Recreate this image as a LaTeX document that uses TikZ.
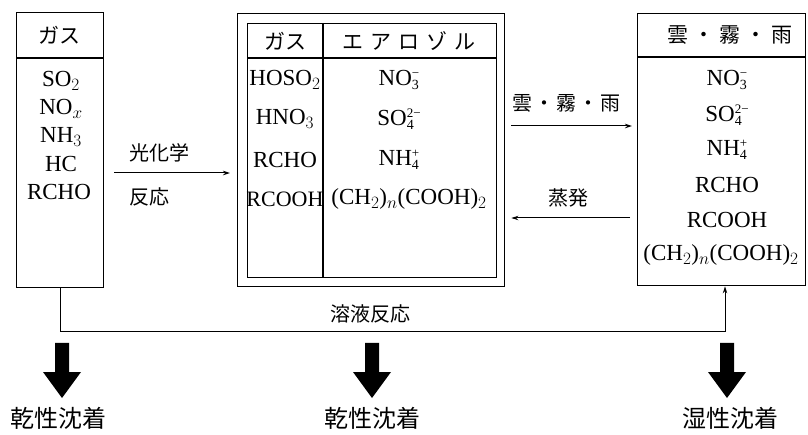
\documentclass[tikz,border=0pt]{standalone}
\usepackage{fontspec}
\setmainfont{Liberation Serif}
\newfontfamily\jp{Noto Sans CJK JP}
\usetikzlibrary{arrows.meta}
\newcommand\ionsc[2]{\rlap{\raisebox{-4pt}{\fontsize{14}{14}\selectfont #1}}\raisebox{8pt}{\fontsize{13}{13}\selectfont #2}}
\begin{document}
\begin{tikzpicture}[x=1pt,y=-1pt,
  box/.style={draw, line width=1.4pt, inner sep=0, anchor=north west},
  rule/.style={line width=1.2pt},
  chem/.style={font=\fontsize{23}{23}\selectfont, inner sep=0},
  chemsm/.style={font=\fontsize{22}{22}\selectfont, inner sep=0},
  jhead/.style={font=\jp\fontsize{21}{21}\selectfont, inner sep=0},
  jlab/.style={font=\jp\fontsize{20}{20}\selectfont, inner sep=0},
  jbot/.style={font=\jp\fontsize{24}{24}\selectfont, inner sep=0},
  flow/.style={line width=1pt, -{Stealth[length=7pt,width=4.5pt]}},
  bigdown/.pic={\fill (-7,0) -- (7,0) -- (7,29) -- (19,29) -- (0,55) -- (-19,29) -- (-7,29) -- cycle;}
]
\useasboundingbox (0,0) rectangle (808,435);

% boxes
\node[box, minimum width=87pt, minimum height=275pt] (L) at (16,12) {};
\node[box, minimum width=267pt, minimum height=273pt] (Mo) at (237,13) {};
\node[box, minimum width=249pt, minimum height=254pt] (Mi) at (247,23) {};
\node[box, minimum width=168pt, minimum height=272pt] (R) at (637,13) {};

% header rules
\draw[rule] ([yshift=-46pt]L.north west) -- ([yshift=-46pt]L.north east);
\draw[rule] ([yshift=-35pt]Mi.north west) -- ([yshift=-35pt]Mi.north east);
\draw[rule] ([xshift=76pt]Mi.north west) -- ([xshift=76pt]Mi.south west);
\draw[rule] ([yshift=-44pt]R.north west) -- ([yshift=-44pt]R.north east);

% left box texts
\node[jhead] (lh) at (59,35) {ガス};
\node[chem] (l1) at (61,81) {SO$_2$};
\node[chem] (l2) at (61,109) {NO$_x$};
\node[chem] (l3) at (61,137) {NH$_3$};
\node[chem] (l4) at (61,164) {HC};
\node[chem] (l5) at (59,192) {RCHO};

% middle box texts
\node[jhead] (mh1) at (285,41) {ガス};
\node[jhead] (mh2) at (409,41) {エ\hspace{7pt}ア\hspace{7pt}ロ\hspace{7pt}ゾ\hspace{7pt}ル};
\node[chem] (ma1) at (285,80) {HOSO$_2$};
\node[chem] (ma2) at (285,119) {HNO$_3$};
\node[chem] (ma3) at (285,160) {RCHO};
\node[chemsm] (ma4) at (285,199) {RCOOH};
\node[chem] (mb1) at (399,80) {NO\ionsc{3}{−}};
\node[chem] (mb2) at (399,119) {SO\ionsc{4}{2−}};
\node[chem] (mb3) at (399,160) {NH\ionsc{4}{+}};
\node[chem] (mb4) at (409,199) {(CH$_2$)$_n$(COOH)$_2$};

% right box texts
\node[jhead] (rh) at (730,35) {雲\hspace{5pt}・\hspace{5pt}霧\hspace{5pt}・\hspace{5pt}雨};
\node[chem] (r1) at (727,80) {NO\ionsc{3}{−}};
\node[chem] (r2) at (727,115) {SO\ionsc{4}{2−}};
\node[chem] (r3) at (727,150) {NH\ionsc{4}{+}};
\node[chem] (r4) at (727,185) {RCHO};
\node[chem] (r5) at (727,220) {RCOOH};
\node[chem] (r6) at (721,255) {(CH$_2$)$_n$(COOH)$_2$};

% arrow labels
\node[jlab, anchor=west] (t1) at (129,153) {光化学};
\node[jlab, anchor=west] (t2) at (129,197) {反応};
\node[jlab] (t3) at (566,103) {雲\hspace{2pt}・\hspace{2pt}霧\hspace{2pt}・\hspace{2pt}雨};
\node[jlab] (t4) at (568,198) {蒸発};
\node[jlab] (t5) at (370,314) {溶液反応};

% arrows between boxes
\coordinate (ya) at (0,173);
\coordinate (yb) at (0,126);
\coordinate (yc) at (0,218);
\draw[flow, shorten <=10pt, shorten >=7pt] (L.east |- ya) -- (Mo.west |- ya);
\draw[flow, shorten <=6pt, shorten >=5pt] (Mo.east |- yb) -- (R.west |- yb);
\draw[flow, shorten <=7pt, shorten >=6pt] (R.west |- yc) -- (Mo.east |- yc);

% solution reaction connector
\coordinate (bl) at (60,332);
\coordinate (br) at (725,332);
\draw[flow] (L.south -| bl) -- (bl) -- (br) -- (R.south -| br);

% deposition arrows and labels
\pic at (62,343) {bigdown};
\pic at (372,343) {bigdown};
\pic at (727,343) {bigdown};
\node[jbot] (d1) at (58,418) {乾性沈着};
\node[jbot] (d2) at (372,418) {乾性沈着};
\node[jbot] (d3) at (730,418) {湿性沈着};
\end{tikzpicture}
\end{document}
